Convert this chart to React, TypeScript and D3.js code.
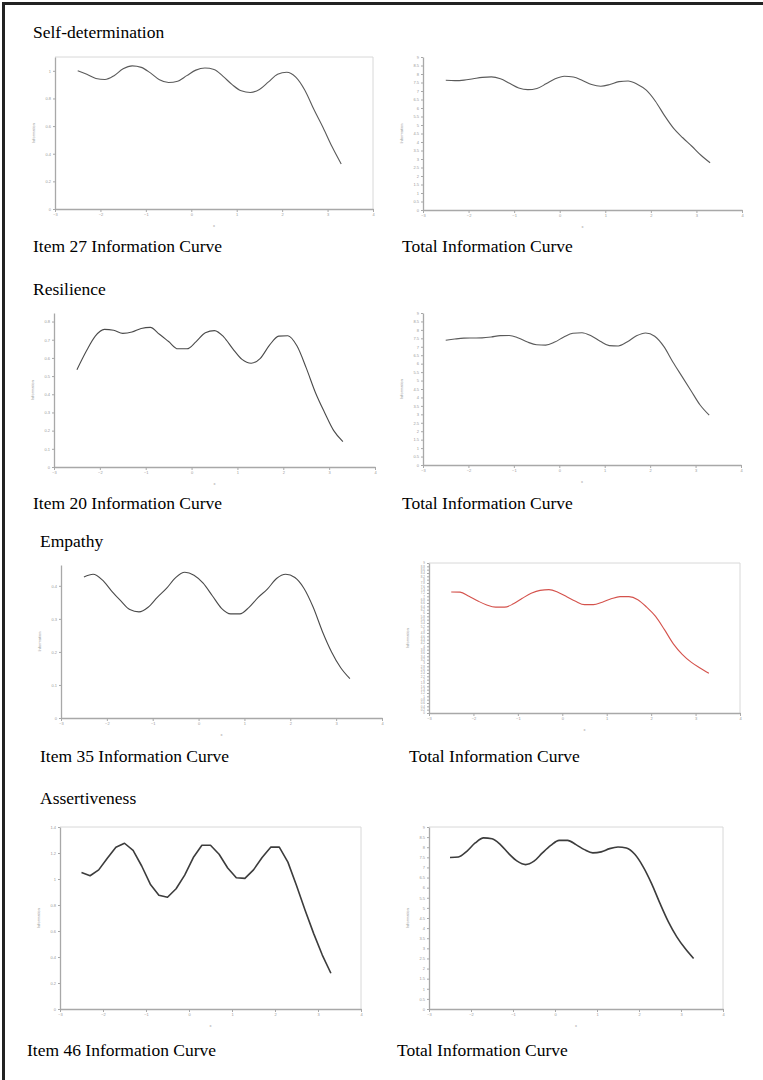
import React, { useEffect, useRef } from 'react';
import * as d3 from 'd3';

// ability (theta) grid shared by every curve
const THETA = [-2.5, -2.3, -2.1, -1.9, -1.7, -1.5, -1.3, -1.1, -0.9, -0.7, -0.5, -0.3, -0.1, 0.1, 0.3, 0.5, 0.7, 0.9, 1.1, 1.3, 1.5, 1.7, 1.9, 2.1, 2.3, 2.5, 2.7, 2.9, 3.1, 3.3];
const X_TICKS = [-3, -2, -1, 0, 1, 2, 3, 4];

// Self-determination
const SELF_ITEM27 = [1.0, 0.975, 0.945, 0.937, 0.965, 1.015, 1.036, 1.025, 0.985, 0.935, 0.915, 0.925, 0.965, 1.005, 1.02, 1.01, 0.96, 0.9, 0.855, 0.843, 0.865, 0.92, 0.975, 0.99, 0.955, 0.86, 0.72, 0.59, 0.45, 0.326];
const SELF_TOTAL = [7.63, 7.61, 7.64, 7.72, 7.8, 7.83, 7.72, 7.45, 7.18, 7.08, 7.15, 7.42, 7.72, 7.87, 7.82, 7.62, 7.38, 7.28, 7.38, 7.55, 7.59, 7.4, 7.05, 6.4, 5.55, 4.8, 4.25, 3.75, 3.22, 2.78];

// Resilience
const RES_ITEM20 = [0.535, 0.635, 0.72, 0.757, 0.752, 0.735, 0.742, 0.762, 0.768, 0.73, 0.69, 0.65, 0.65, 0.69, 0.738, 0.75, 0.716, 0.65, 0.592, 0.571, 0.598, 0.67, 0.72, 0.722, 0.665, 0.545, 0.41, 0.3, 0.2, 0.14];
const RES_TOTAL = [7.39, 7.46, 7.51, 7.52, 7.53, 7.58, 7.66, 7.67, 7.52, 7.28, 7.12, 7.1, 7.28, 7.58, 7.8, 7.83, 7.65, 7.33, 7.07, 7.05, 7.3, 7.65, 7.82, 7.62, 7.02, 6.1, 5.25, 4.4, 3.55, 2.95];

// Empathy
const EMP_ITEM35 = [0.427, 0.435, 0.418, 0.385, 0.355, 0.328, 0.321, 0.335, 0.365, 0.392, 0.425, 0.441, 0.432, 0.408, 0.37, 0.332, 0.315, 0.315, 0.335, 0.365, 0.39, 0.422, 0.435, 0.425, 0.392, 0.335, 0.262, 0.2, 0.152, 0.119];
const EMP_TOTAL = [7.26, 7.25, 7.0, 6.72, 6.48, 6.35, 6.35, 6.55, 6.88, 7.18, 7.36, 7.4, 7.25, 6.98, 6.7, 6.5, 6.5, 6.65, 6.85, 6.98, 6.98, 6.8, 6.35, 5.8, 5.0, 4.15, 3.52, 3.05, 2.7, 2.38];

// Assertiveness
const ASS_ITEM46 = [1.05, 1.025, 1.07, 1.16, 1.245, 1.275, 1.22, 1.1, 0.96, 0.875, 0.86, 0.925, 1.03, 1.165, 1.26, 1.26, 1.19, 1.085, 1.01, 1.005, 1.07, 1.165, 1.245, 1.245, 1.13, 0.95, 0.76, 0.58, 0.415, 0.275];
const ASS_TOTAL = [7.49, 7.52, 7.8, 8.21, 8.46, 8.42, 8.13, 7.68, 7.31, 7.14, 7.31, 7.72, 8.09, 8.34, 8.34, 8.13, 7.88, 7.72, 7.77, 7.93, 8.01, 7.96, 7.65, 7.03, 6.2, 5.22, 4.31, 3.57, 2.99, 2.5];

// y tick labels
const Y_TICKS_SELF_ITEM = [0, 0.2, 0.4, 0.6, 0.8, 1];
const Y_TICKS_RES_ITEM = [0, 0.1, 0.2, 0.3, 0.4, 0.5, 0.6, 0.7, 0.8];
const Y_TICKS_EMP_ITEM = [0, 0.1, 0.2, 0.3, 0.4];
const Y_TICKS_ASS_ITEM = [0, 0.2, 0.4, 0.6, 0.8, 1, 1.2, 1.4];
const Y_TICKS_TOTAL = [0, 0.5, 1, 1.5, 2, 2.5, 3, 3.5, 4, 4.5, 5, 5.5, 6, 6.5, 7, 7.5, 8, 8.5, 9];
const Y_TICKS_EMP_TOTAL = [0, 0.2, 0.4, 0.6, 0.8, 1, 1.2, 1.4, 1.6, 1.8, 2, 2.2, 2.4, 2.6, 2.8, 3, 3.2, 3.4, 3.6, 3.8, 4, 4.2, 4.4, 4.6, 4.8, 5, 5.2, 5.4, 5.6, 5.8, 6, 6.2, 6.4, 6.6, 6.8, 7, 7.2, 7.4, 7.6, 7.8, 8, 8.2, 8.4, 8.6, 8.8, 9];

const SECTION_TITLES = ['Self-determination', 'Resilience', 'Empathy', 'Assertiveness'];
const ITEM_CAPTIONS = ['Item 27 Information Curve', 'Item 20 Information Curve', 'Item 35 Information Curve', 'Item 46 Information Curve'];
const TOTAL_CAPTION = 'Total Information Curve';

// layout of the eight small plots: [left, right, top, bottom]
const PANELS = [
  { values: SELF_ITEM27, yTicks: Y_TICKS_SELF_ITEM, yMax: 1.1, box: [55, 373, 57, 209], frame: true, color: '#5a5a5a', width: 1.1, smooth: true },
  { values: SELF_TOTAL, yTicks: Y_TICKS_TOTAL, yMax: 9, box: [423, 742, 57, 210], frame: false, color: '#5a5a5a', width: 1.1, smooth: true },
  { values: RES_ITEM20, yTicks: Y_TICKS_RES_ITEM, yMax: 0.847, box: [54, 375, 313, 467], frame: false, color: '#4a4a4a', width: 1.1, smooth: true },
  { values: RES_TOTAL, yTicks: Y_TICKS_TOTAL, yMax: 9, box: [423, 741, 313, 465], frame: false, color: '#5a5a5a', width: 1.1, smooth: true },
  { values: EMP_ITEM35, yTicks: Y_TICKS_EMP_ITEM, yMax: 0.463, box: [61, 382, 565, 718], frame: false, color: '#4a4a4a', width: 1.1, smooth: true },
  { values: EMP_TOTAL, yTicks: Y_TICKS_EMP_TOTAL, yMax: 9, box: [429, 740, 563, 713], frame: true, color: '#d4524c', width: 1.1, smooth: true },
  { values: ASS_ITEM46, yTicks: Y_TICKS_ASS_ITEM, yMax: 1.4, box: [60, 361, 827, 1009], frame: true, color: '#3c3c3c', width: 1.6, smooth: false },
  { values: ASS_TOTAL, yTicks: Y_TICKS_TOTAL, yMax: 9, box: [429, 723, 827, 1009], frame: true, color: '#3c3c3c', width: 1.6, smooth: true },
];

// text positions: [x, baseline]
const TITLE_POS = [[33, 38], [33, 295], [40, 547], [40, 804]];
const ITEM_CAPTION_POS = [[33, 252], [33, 509], [40, 762], [27, 1056]];
const TOTAL_CAPTION_POS = [[402, 252], [402, 509], [409, 762], [397, 1056]];

export default function App() {
  const svgRef = useRef<SVGSVGElement>(null);

  useEffect(() => {
    const svg = d3.select(svgRef.current);
    svg.selectAll('*').remove();

    svg.append('rect').attr('width', 763).attr('height', 1080).attr('fill', '#fff');

    // page frame (only top and left edges show)
    svg.append('line').attr('x1', 2).attr('x2', 763).attr('y1', 3.5).attr('y2', 3.5)
      .attr('stroke', '#222').attr('stroke-width', 3);
    svg.append('line').attr('x1', 3.5).attr('x2', 3.5).attr('y1', 2).attr('y2', 1080)
      .attr('stroke', '#222').attr('stroke-width', 3);

    const serif = '"Liberation Serif", "Times New Roman", serif';
    const addText = (pos: number[], t: string) =>
      svg.append('text').attr('x', pos[0]).attr('y', pos[1])
        .style('font-family', serif).style('font-size', '17.5px').attr('fill', '#000').text(t);

    SECTION_TITLES.forEach((t, i) => {
      addText(TITLE_POS[i], t);
      addText(ITEM_CAPTION_POS[i], ITEM_CAPTIONS[i]);
      addText(TOTAL_CAPTION_POS[i], TOTAL_CAPTION);
    });

    PANELS.forEach(p => {
      const [left, right, top, bottom] = p.box;
      const x = d3.scaleLinear().domain([-3, 4]).range([left, right]);
      const y = d3.scaleLinear().domain([0, p.yMax]).range([bottom, top]);
      const g = svg.append('g');

      if (p.frame) {
        g.append('path')
          .attr('d', `M${left},${top}H${right}V${bottom}`)
          .attr('fill', 'none').attr('stroke', '#d8d8d8').attr('stroke-width', 1);
      }

      // x axis
      const xAxis = g.append('g')
        .attr('transform', `translate(0,${bottom})`)
        .call(d3.axisBottom(x).tickValues(X_TICKS).tickSize(3).tickSizeOuter(0).tickFormat(d3.format('~g')));
      xAxis.select('.domain').attr('stroke', '#a8a8a8').attr('stroke-width', 1.3);
      xAxis.selectAll('.tick line').attr('stroke', '#a8a8a8');
      xAxis.selectAll('.tick text')
        .attr('fill', '#999').style('font-size', '4px').style('font-family', 'Arial, sans-serif')
        .attr('y', 6).attr('dy', '0.3em');

      // y axis
      const yAxis = g.append('g')
        .attr('transform', `translate(${left},0)`)
        .call(d3.axisLeft(y).tickValues(p.yTicks).tickSize(2).tickSizeOuter(0).tickFormat(d3.format('~g')));
      yAxis.select('.domain').attr('stroke', '#a8a8a8').attr('stroke-width', 1.3);
      yAxis.selectAll('.tick line').attr('stroke', '#a8a8a8');
      yAxis.selectAll('.tick text')
        .attr('fill', '#999').style('font-size', p.yTicks.length > 30 ? '3px' : '4px').style('font-family', 'Arial, sans-serif')
        .attr('x', -4);

      // axis labels
      g.append('text')
        .attr('x', (left + right) / 2).attr('y', bottom + 18)
        .attr('text-anchor', 'middle').attr('fill', '#999')
        .style('font-size', '4px').style('font-family', 'Arial, sans-serif').text('x');
      g.append('text')
        .attr('transform', `translate(${left - 20},${(top + bottom) / 2}) rotate(-90)`)
        .attr('text-anchor', 'middle').attr('fill', '#999')
        .style('font-size', '4px').style('font-family', 'Arial, sans-serif').text('Information');

      // information curve
      const line = d3.line<number>()
        .x((_, i) => x(THETA[i]))
        .y(d => y(d))
        .curve(p.smooth ? d3.curveMonotoneX : d3.curveLinear);

      g.append('path')
        .datum(p.values)
        .attr('d', line)
        .attr('fill', 'none')
        .attr('stroke', p.color)
        .attr('stroke-width', p.width)
        .attr('stroke-linejoin', 'round');
    });
  }, []);

  return (
    <svg
      ref={svgRef}
      width={763}
      height={1080}
      style={{ position: 'absolute', left: 0, top: 0, display: 'block' }}
    />
  );
}
